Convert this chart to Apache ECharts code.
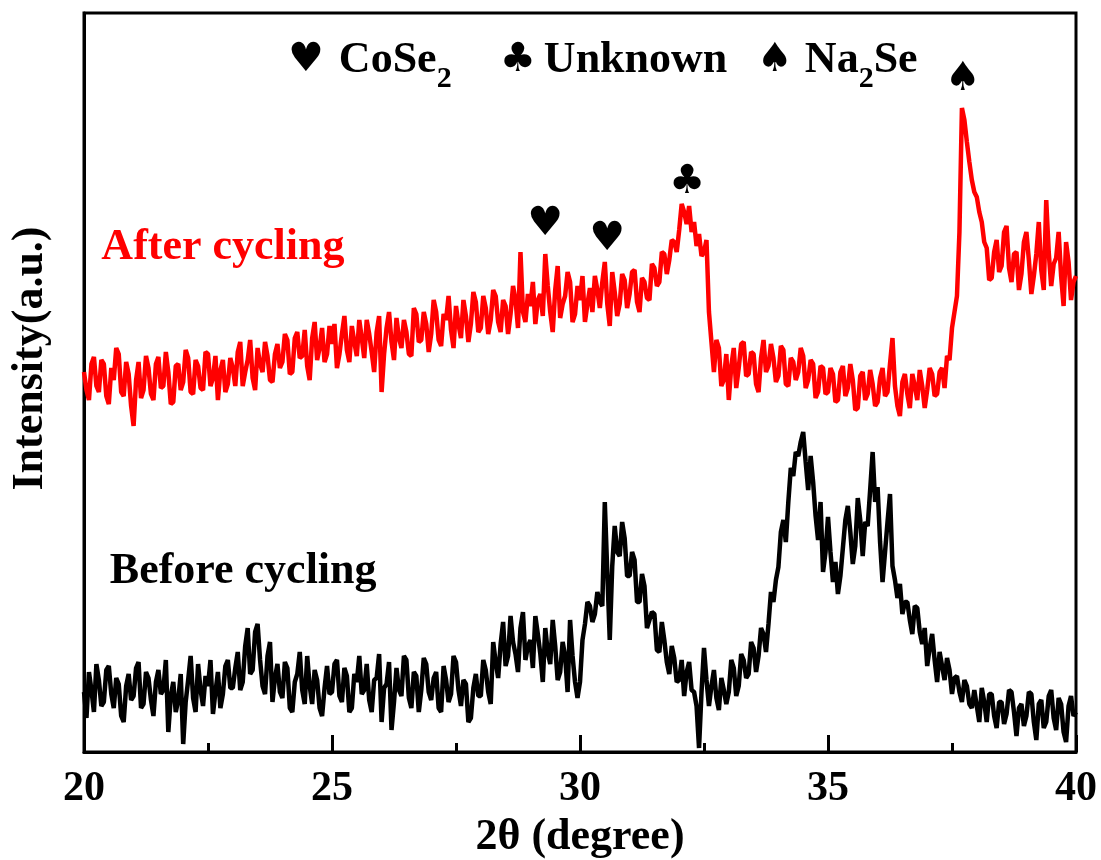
<!DOCTYPE html>
<html>
<head>
<meta charset="UTF-8">
<title>XRD before / after cycling</title>
<script src="https://cdn.jsdelivr.net/npm/echarts@6/dist/echarts.min.js"></script>
<style>
  html, body { margin: 0; padding: 0; background: #fff; }
  #chart { width: 1101px; height: 860px; }
</style>
</head>
<body>
<div id="chart"></div>
<script>
// 2theta grid: 20.00 .. 40.00, step 0.05 (one row = one degree)
const thetaStart = 20;
const thetaStep = 0.05;

// After cycling (red), intensity in a.u.
const afterCycling = [
  380, 362, 352, 388, 395, 366, 360, 392, 388, 356, 348, 384, 372, 404, 398, 360, 356, 390, 378, 346,
  326, 372, 390, 354, 362, 396, 384, 358, 352, 388, 395, 364, 366, 400, 380, 348, 350, 386, 388, 362,
  370, 402, 394, 360, 358, 392, 386, 364, 362, 400, 398, 366, 374, 396, 352, 382, 392, 360, 368, 394,
  384, 366, 400, 410, 366, 380, 392, 412, 374, 362, 404, 388, 380, 410, 396, 372, 370, 398, 408, 384,
  390, 418, 412, 378, 380, 414, 420, 394, 396, 422, 386, 372, 414, 430, 392, 404, 424, 390, 398, 426,
  408, 428, 384, 398, 418, 436, 402, 390, 426, 410, 396, 432, 414, 394, 432, 418, 400, 380, 420, 436,
  360, 398, 424, 440, 410, 392, 434, 414, 404, 432, 420, 398, 396, 444, 438, 410, 412, 440, 428, 400,
  418, 452, 440, 412, 406, 438, 432, 456, 422, 404, 446, 428, 414, 452, 436, 410, 428, 460, 450, 420,
  424, 456, 444, 418, 432, 462, 456, 430, 420, 452, 446, 418, 438, 466, 452, 424, 500, 440, 430, 458,
  446, 470, 428, 452, 458, 436, 498, 466, 440, 420, 462, 486, 434, 448, 456, 480, 470, 430, 438, 466,
  452, 476, 430, 448, 464, 440, 476, 462, 444, 470, 490, 448, 426, 480, 460, 436, 448, 478, 472, 444,
  458, 480, 482, 450, 440, 474, 470, 454, 452, 488, 484, 466, 470, 500, 498, 478, 492, 512, 510, 500,
  522, 548, 540, 528, 546, 520, 530, 506, 518, 496, 500, 512, 440, 410, 380, 412, 404, 366, 372, 398,
  352, 386, 404, 364, 384, 408, 410, 376, 378, 400, 398, 368, 360, 394, 412, 380, 386, 408, 394, 370,
  376, 406, 402, 368, 366, 394, 390, 372, 380, 404, 396, 364, 372, 392, 388, 354, 360, 386, 384, 358,
  360, 384, 378, 350, 352, 380, 386, 356, 364, 388, 372, 342, 344, 376, 380, 352, 358, 382, 368, 346,
  350, 374, 384, 356, 360, 388, 414, 366, 346, 336, 370, 378, 358, 344, 378, 366, 352, 382, 366, 344,
  362, 384, 378, 356, 358, 380, 384, 364, 396, 392, 424, 440, 456, 520, 644, 632, 610, 590, 572, 560,
  555, 540, 530, 510, 504, 472, 474, 500, 512, 480, 486, 520, 526, 484, 470, 498, 500, 462, 478, 510,
  520, 492, 458, 476, 498, 530, 482, 462, 552, 500, 466, 488, 494, 520, 476, 446, 510, 490, 452, 470,
  476
];

// Before cycling (black)
const beforeCycling = [
  60, 34, 80, 62, 40, 88, 72, 46, 50, 82, 86, 58, 44, 74, 68, 36, 30, 66, 78, 52,
  56, 84, 90, 44, 48, 80, 74, 52, 36, 70, 82, 58, 62, 92, 20, 56, 70, 40, 52, 78,
  8, 50, 72, 96, 54, 40, 88, 62, 46, 76, 66, 92, 38, 60, 80, 44, 58, 86, 92, 64,
  64, 84, 100, 62, 70, 106, 124, 78, 82, 120, 128, 92, 66, 58, 96, 110, 50, 74, 88, 60,
  54, 90, 84, 44, 40, 70, 78, 100, 62, 48, 96, 66, 48, 82, 72, 44, 36, 64, 86, 58,
  60, 88, 92, 56, 50, 84, 76, 40, 44, 78, 70, 96, 58, 62, 88, 52, 40, 72, 74, 98,
  30, 64, 68, 90, 22, 50, 84, 62, 56, 96, 92, 54, 44, 80, 76, 40, 62, 94, 88, 60,
  52, 74, 80, 44, 40, 86, 72, 50, 58, 96, 90, 62, 46, 72, 68, 30, 34, 64, 78, 56,
  56, 92, 82, 60, 48, 110, 90, 74, 108, 130, 86, 96, 136, 110, 98, 80, 124, 140, 92, 106,
  112, 84, 136, 118, 98, 70, 124, 100, 88, 132, 106, 72, 80, 110, 96, 60, 132, 96, 70, 54,
  70, 112, 128, 150, 146, 130, 138, 160, 150, 146, 250, 180, 112, 186, 226, 200, 196, 230, 214, 176,
  176, 200, 192, 150, 150, 178, 166, 124, 132, 140, 138, 102, 100, 130, 112, 90, 78, 106, 94, 70,
  72, 92, 56, 80, 90, 62, 60, 46, 4, 60, 104, 72, 46, 66, 82, 54, 42, 74, 62, 48,
  60, 92, 84, 56, 66, 98, 92, 74, 78, 110, 104, 80, 96, 124, 118, 100, 128, 160, 150, 172,
  185, 220, 232, 210, 250, 284, 276, 300, 296, 310, 320, 290, 262, 296, 270, 236, 212, 250, 180, 200,
  235, 200, 170, 190, 158, 176, 204, 232, 246, 220, 188, 206, 254, 232, 196, 230, 226, 262, 300, 250,
  265, 210, 170, 200, 230, 258, 186, 172, 154, 168, 138, 150, 150, 132, 118, 146, 144, 120, 108, 124,
  86, 104, 118, 92, 70, 100, 86, 72, 94, 82, 58, 74, 76, 60, 50, 72, 66, 48, 44, 62,
  46, 30, 64, 50, 30, 58, 58, 36, 24, 50, 50, 28, 38, 62, 60, 40, 16, 44, 48, 26,
  36, 60, 58, 30, 12, 48, 52, 24, 30, 56, 62, 34, 22, 54, 48, 20, 10, 46, 56, 36,
  40
];

// peak markers: position (2theta, intensity) and glyph
const peakTheta = [29.3, 30.55, 32.16, 37.72];
const peakHeight = [527, 512, 569, 672];
const peakGlyph = ["\u2665", "\u2665", "\u2663", "\u2660"];

// curve captions
const captionText = ["After cycling", "Before cycling"];
const captionTheta = [20.35, 20.52];
const captionHeight = [504, 180];
const captionColor = ["#ff0000", "#000000"];

const xTicks = [20, 25, 30, 35, 40];

const serif = "'Liberation Serif', 'Times New Roman', serif";
const symbolFont = "'DejaVu Sans', sans-serif";

const toPairs = (arr) => arr.map((v, i) => [+(thetaStart + i * thetaStep).toFixed(2), v]);

const chart = echarts.init(document.getElementById("chart"));

const legendRich = {
  s: { fontFamily: symbolFont, fontSize: 40, fill: "#000" },
  g: { width: 15 },
  gn: { width: 12 },
  gs: { width: 8 },
  t: { fontFamily: serif, fontWeight: "bold", fontSize: 44, fill: "#000" },
  sub: { fontFamily: serif, fontWeight: "bold", fontSize: 30, fill: "#000", padding: [36, 0, 0, 0] },
};

const option = {
  backgroundColor: "#fff",
  animation: false,
  grid: {
    left: 84,
    right: 25,
    top: 13,
    bottom: 108,
    outerBoundsMode: "none",
    containLabel: false,
    show: true,
    borderColor: "#000",
    borderWidth: 3,
    backgroundColor: "transparent",
  },
  xAxis: {
    type: "value",
    min: xTicks[0],
    max: xTicks[xTicks.length - 1],
    interval: 5,
    name: "2\u03b8 (degree)",
    nameLocation: "middle",
    nameGap: 64,
    nameTextStyle: { fontFamily: serif, fontWeight: "bold", fontSize: 44, color: "#000" },
    axisLine: { lineStyle: { color: "#000", width: 3 } },
    axisTick: { inside: true, length: 17, lineStyle: { color: "#000", width: 3 } },
    minorTick: { show: true, splitNumber: 2, length: 9, lineStyle: { color: "#000", width: 3 } },
    axisLabel: { fontFamily: serif, fontWeight: "bold", fontSize: 42, color: "#000", margin: 16 },
    splitLine: { show: false },
  },
  yAxis: {
    type: "value",
    min: 0,
    max: 739,
    name: "Intensity(a.u.)",
    nameLocation: "middle",
    nameGap: 31,
    nameRotate: 90,
    nameTextStyle: {
      fontFamily: serif,
      fontWeight: "bold",
      fontSize: 44,
      color: "#000",
      padding: [0, 0, 0, 48],
    },
    axisLine: { show: true, lineStyle: { color: "#000", width: 3 } },
    axisTick: { show: false },
    axisLabel: { show: false },
    splitLine: { show: false },
  },
  graphic: [
    {
      type: "text",
      left: 288,
      top: 39,
      style: { text: "{s|\u2665}{g|}{t|CoSe}{sub|2}", rich: legendRich },
    },
    {
      type: "text",
      left: 500,
      top: 39,
      style: { text: "{s|\u2663}{gs|}{t|Unknown}", rich: legendRich },
    },
    {
      type: "text",
      left: 757,
      top: 39,
      style: { text: "{s|\u2660}{gn|}{t|Na}{sub|2}{t|Se}", rich: legendRich },
    },
  ],
  series: [
    {
      name: "After cycling",
      type: "line",
      data: toPairs(afterCycling),
      showSymbol: false,
      lineStyle: { color: "#ff0000", width: 4.5 },
      z: 3,
    },
    {
      name: "Before cycling",
      type: "line",
      data: toPairs(beforeCycling),
      showSymbol: false,
      lineStyle: { color: "#000", width: 4.5 },
      z: 3,
    },
    {
      name: "peaks",
      type: "scatter",
      symbolSize: 0,
      itemStyle: { opacity: 1 },
      data: peakTheta.map((t, i) => ({ value: [t, peakHeight[i]], glyph: peakGlyph[i] })),
      label: {
        show: true,
        position: "inside",
        formatter: (p) => p.data.glyph,
        fontFamily: symbolFont,
        fontSize: 40,
        color: "#000",
      },
      emphasis: { disabled: true },
      z: 5,
    },
    {
      name: "captions",
      type: "scatter",
      symbolSize: 0,
      itemStyle: { opacity: 1 },
      data: captionText.map((c, i) => ({
        value: [captionTheta[i], captionHeight[i]],
        label: { color: captionColor[i] },
      })),
      label: {
        show: true,
        position: "right",
        distance: 0,
        formatter: (p) => captionText[p.dataIndex],
        fontFamily: serif,
        fontWeight: "bold",
        fontSize: 44,
        color: "#000",
      },
      emphasis: { disabled: true },
      z: 5,
    },
  ],
};

chart.setOption(option);
</script>
</body>
</html>
